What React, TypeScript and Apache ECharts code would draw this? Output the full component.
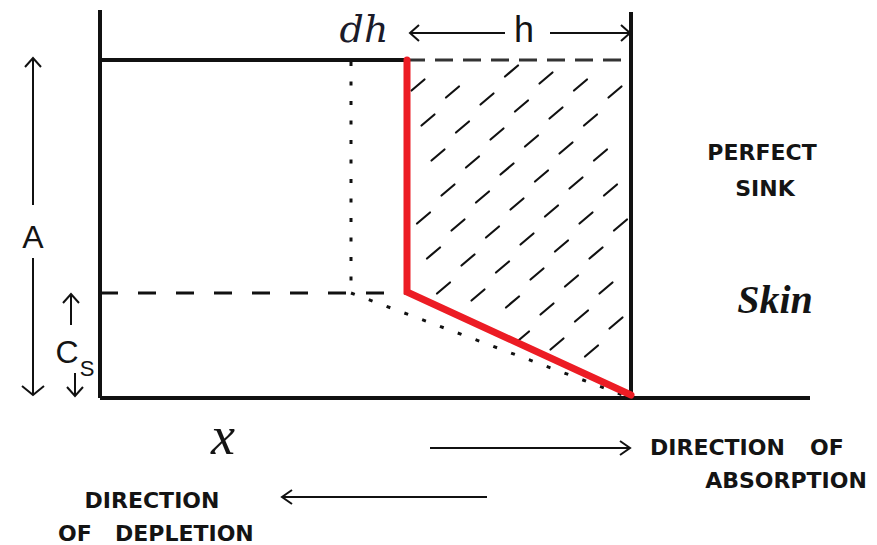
import React, { useEffect, useRef } from "react";
import * as echarts from "echarts";

// Coordinate system: x = distance from the left wall, y = concentration (0 at the base line)
const X_MIN = -100;
const X_MAX = 777;
const Y_MIN = -147;
const Y_MAX = 398;

const leftWall = [[0, 0], [0, 388]];
const skinWall = [[531, 0], [531, 386]];
const baseLine = [[0, 0], [710, 0]];
const donorTop = [[0, 338], [307, 338]];
const depletedTop = [[307, 338], [531, 338]];
const csLevel = [[0, 105], [307, 105]];
const dhMarker = [[251, 336], [251, 105]];
const initialGradient = [[251, 105], [531, 0]];
const profile = [[307, 338], [307, 106], [531, 3]];
const hatchRegion = [[310, 335], [529, 335], [529, 5], [310, 101]];

const INK = "#111111";
const RED = "#ec1c24";

function lineSeries(data: number[][], color: string, width: number, type: any, z: number, extra: any = {}) {
  return {
    type: "line",
    data,
    symbol: "none",
    silent: true,
    z,
    lineStyle: { color, width, type, cap: "butt", join: "miter", ...extra },
  };
}

function inside(poly: number[][], x: number, y: number) {
  let c = false;
  for (let i = 0, j = poly.length - 1; i < poly.length; j = i++) {
    const [xi, yi] = poly[i];
    const [xj, yj] = poly[j];
    if (yi > y !== yj > y && x < ((xj - xi) * (y - yi)) / (yj - yi) + xi) c = !c;
  }
  return c;
}

function arrow(x1: number, y1: number, x2: number, y2: number, head = 9, spread = 8) {
  const dx = x2 - x1;
  const dy = y2 - y1;
  const len = Math.hypot(dx, dy);
  const ux = dx / len;
  const uy = dy / len;
  const bx = x2 - ux * head;
  const by = y2 - uy * head;
  const px = -uy * spread;
  const py = ux * spread;
  return [
    { type: "line", shape: { x1, y1, x2, y2 }, style: { stroke: INK, lineWidth: 2 } },
    {
      type: "polyline",
      shape: { points: [[bx + px, by + py], [x2, y2], [bx - px, by - py]] },
      style: { stroke: INK, lineWidth: 2, fill: null },
    },
  ];
}

function label(text: string, x: number, y: number, font: any, align = "center") {
  return {
    type: "text",
    x,
    y,
    style: {
      text,
      fill: "#141414",
      align,
      verticalAlign: "middle",
      textAlign: align,
      textVerticalAlign: "middle",
      ...font,
    },
  };
}

const caps = { fontFamily: "DejaVu Sans", fontWeight: "bold", fontSize: 22 };

export default function App() {
  const ref = useRef<HTMLDivElement>(null);
  useEffect(() => {
    if (!ref.current) return;
    const chart = echarts.init(ref.current, undefined, { renderer: "svg" });
    chart.setOption({
      animation: false,
      grid: { left: 0, right: 0, top: 0, bottom: 0 },
      xAxis: { type: "value", min: X_MIN, max: X_MAX, show: false },
      yAxis: { type: "value", min: Y_MIN, max: Y_MAX, show: false },
      series: [
        {
          type: "custom",
          coordinateSystem: "cartesian2d",
          silent: true,
          z: 1,
          data: [[hatchRegion[0][0], hatchRegion[0][1]]],
          renderItem: (_p: any, api: any) => {
            const poly = hatchRegion.map((pt) => api.coord(pt));
            const ox = poly[0][0] + 8;
            const oy = poly[0][1] + 22;
            const children: any[] = [];
            for (let i = -6; i < 12; i++) {
              for (let j = -3; j < 14; j++) {
                const cx = ox + i * 34.5 + j * 10;
                const cy = oy + i * 7 + j * 35;
                const a = [cx - 6.5, cy + 5.5];
                const b = [cx + 6.5, cy - 5.5];
                if (inside(poly, a[0], a[1]) && inside(poly, b[0], b[1])) {
                  children.push({
                    type: "line",
                    shape: { x1: a[0], y1: a[1], x2: b[0], y2: b[1] },
                    style: { stroke: INK, lineWidth: 2.2, lineCap: "round" },
                  });
                }
              }
            }
            return { type: "group", children };
          },
        },
        lineSeries(leftWall, INK, 4, "solid", 3),
        lineSeries(skinWall, INK, 4, "solid", 3),
        lineSeries(baseLine, INK, 4, "solid", 3),
        lineSeries(donorTop, INK, 4, "solid", 3),
        lineSeries(depletedTop, "#333", 3, [18, 10], 2),
        lineSeries(csLevel, INK, 3, [18, 20], 2),
        lineSeries(dhMarker, INK, 3, [4, 15.5], 2),
        lineSeries(initialGradient, INK, 3, [4, 15], 2),
        lineSeries(profile, RED, 7, "solid", 5, { cap: "round", join: "miter" }),
      ],
      graphic: [
        ...arrow(505, 33, 410, 33),
        ...arrow(550, 33, 630, 33),
        ...arrow(33, 205, 33, 58),
        ...arrow(33, 258, 33, 395, 9, 11),
        ...arrow(71, 325, 71, 294),
        ...arrow(75, 373, 75, 396),
        ...arrow(430, 448, 630, 448, 10, 7),
        ...arrow(487, 497, 282, 497, 10, 7),
        label("dh", 364, 29, { fontFamily: "DejaVu Serif", fontStyle: "italic", fontSize: 38, fill: "#1b1b2a" }),
        label("h", 524, 29, { fontFamily: "Liberation Sans", fontSize: 36 }),
        label("A", 33, 237, { fontFamily: "Liberation Sans", fontSize: 32 }),
        label("C", 67, 352, { fontFamily: "Liberation Sans", fontSize: 32 }),
        label("S", 87, 368, { fontFamily: "Liberation Sans", fontSize: 22 }),
        label("PERFECT", 762, 152, caps),
        label("SINK", 765, 188, caps),
        label("Skin", 775, 299, { fontFamily: "Liberation Serif", fontStyle: "italic", fontWeight: "bold", fontSize: 40 }),
        label("x", 223, 436, { fontFamily: "Liberation Serif", fontStyle: "italic", fontSize: 54 }),
        label("DIRECTION", 650, 447, caps, "left"),
        label("OF", 810, 447, caps, "left"),
        label("ABSORPTION", 786, 480, caps),
        label("DIRECTION", 152, 500, caps),
        label("OF", 58, 533, caps, "left"),
        label("DEPLETION", 115, 533, caps, "left"),
      ],
    });
    return () => chart.dispose();
  }, []);
  return (
    <div
      ref={ref}
      style={{ position: "fixed", left: 0, top: 0, width: 877, height: 545, background: "#fff" }}
    />
  );
}
